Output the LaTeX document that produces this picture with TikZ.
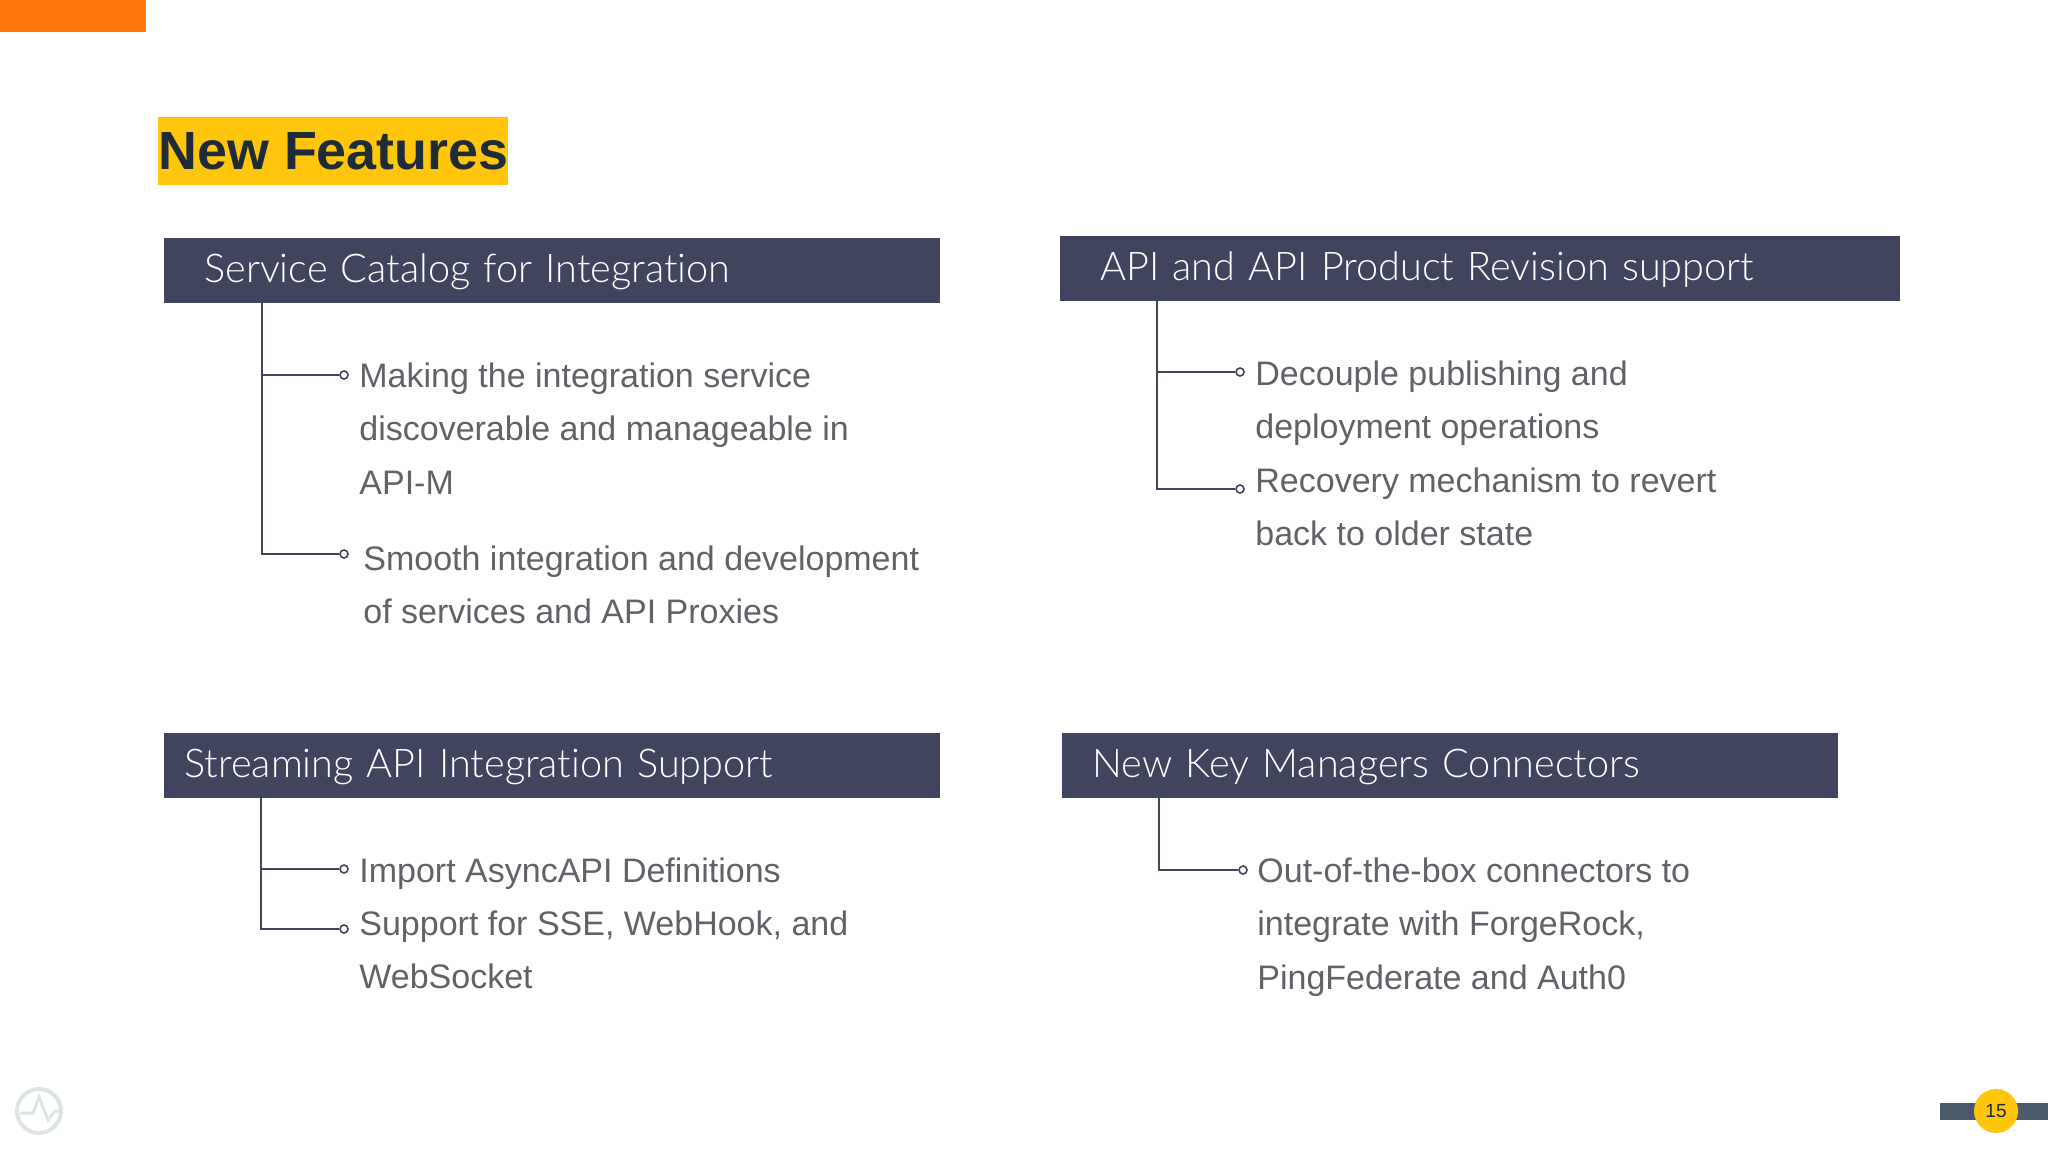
\documentclass[tikz,border=0pt]{standalone}
\usepackage{fontspec}
\setmainfont{Liberation Sans}
\newfontfamily\headfont{Lato Light}[Ligatures=NoCommon]
\usetikzlibrary{positioning}
\definecolor{barblue}{HTML}{40445F}
\definecolor{bodygrey}{HTML}{5F6368}
\definecolor{titleink}{HTML}{1E2B38}
\definecolor{amber}{HTML}{FFC60B}
\definecolor{flame}{HTML}{FF7A0D}
\definecolor{slatebar}{HTML}{4A5A6B}
\definecolor{logogrey}{HTML}{DDE4E4}

\begin{document}
\begin{tikzpicture}[
    x=0.5pt,
    y=-0.5pt,
    headbar/.style={
        rectangle,
        fill=barblue,
        anchor=north west,
        align=left,
        minimum height=32.5pt,
        text height=12pt,
        text depth=0.9pt,
        inner ysep=0pt,
        text=white,
        font=\headfont\fontsize{19.8}{24}\selectfont
    },
    bodytext/.style={
        anchor=north west,
        align=left,
        inner sep=0pt,
        text=bodygrey,
        font=\fontsize{17}{26.75}\selectfont
    },
    tip/.style={
        circle,
        draw=barblue,
        fill=white,
        line width=0.8pt,
        inner sep=0pt,
        minimum size=4pt
    },
    link/.style={draw=barblue, line width=0.8pt}
]
\useasboundingbox (0,0) rectangle (2048,1152);

% Corner and title
\fill[flame] (0,0) rectangle (146,32);
\node[fill=amber, anchor=north west, minimum width=175pt, minimum height=34pt, inner sep=0pt, text=titleink, font=\bfseries\fontsize{26.9}{30}\selectfont] (title) at (158,117) {New Features};

% Top Left
\node[headbar, inner xsep=20pt, text width=348pt] (svcHead) at (164,238) {Service Catalog for Integration};
\coordinate (svcTop) at (262,303);
\node[tip] (svcTipA) at (344,375) {};
\node[tip] (svcTipB) at (344,554) {};
\node[bodytext] (svcTextA) at (359,362) {Making the integration service\\discoverable and manageable in\\API-M};
\node[bodytext] (svcTextB) at (363,545) {Smooth integration and development\\of services and API Proxies};
\draw[link] (svcTop) |- (svcTipA);
\draw[link] (svcTop) |- (svcTipB);

% Top Right
\node[headbar, inner xsep=20pt, text width=380pt] (revHead) at (1060,236) {API and API Product Revision support};
\coordinate (revTop) at (1157,301);
\node[tip] (revTipA) at (1240,372) {};
\node[tip] (revTipB) at (1240,489) {};
\node[bodytext] (revTextA) at (1255,360) {Decouple publishing and\\deployment operations};
\node[bodytext] (revTextB) at (1255,467) {Recovery mechanism to revert\\back to older state};
\draw[link] (revTop) |- (revTipA);
\draw[link] (revTop) |- (revTipB);

% Bottom Left
\node[headbar, inner xsep=10pt, text width=368pt] (strHead) at (164,733) {Streaming API Integration Support};
\coordinate (strTop) at (261,798);
\node[tip] (strTipA) at (344,869) {};
\node[tip] (strTipB) at (344,929) {};
\node[bodytext] (strTextA) at (359,857) {Import AsyncAPI Definitions};
\node[bodytext] (strTextB) at (359,910) {Support for SSE, WebHook, and\\WebSocket};
\draw[link] (strTop) |- (strTipA);
\draw[link] (strTop) |- (strTipB);

% Bottom Right
\node[headbar, inner xsep=15pt, text width=358pt] (keyHead) at (1062,733) {New Key Managers Connectors};
\coordinate (keyTop) at (1159,798);
\node[tip] (keyTipA) at (1243,870) {};
\node[bodytext] (keyTextA) at (1257,857) {Out-of-the-box connectors to\\integrate with ForgeRock,\\PingFederate and Auth0};
\draw[link] (keyTop) |- (keyTipA);

% Footer
\draw[logogrey, line width=2pt] (39,1111) circle (22);
\draw[logogrey, line width=1.5pt] (20,1113) -- (33,1113) -- (39,1097) -- (48,1120) -- (55,1111) -- (60,1111);
\fill[slatebar] (1940,1103) rectangle (2048,1120);
\node[circle, fill=amber, minimum size=22pt, inner sep=0pt, text=titleink, font=\fontsize{9.5}{11}\selectfont] (pageNo) at (1996,1111) {15};

\end{tikzpicture}
\end{document}
